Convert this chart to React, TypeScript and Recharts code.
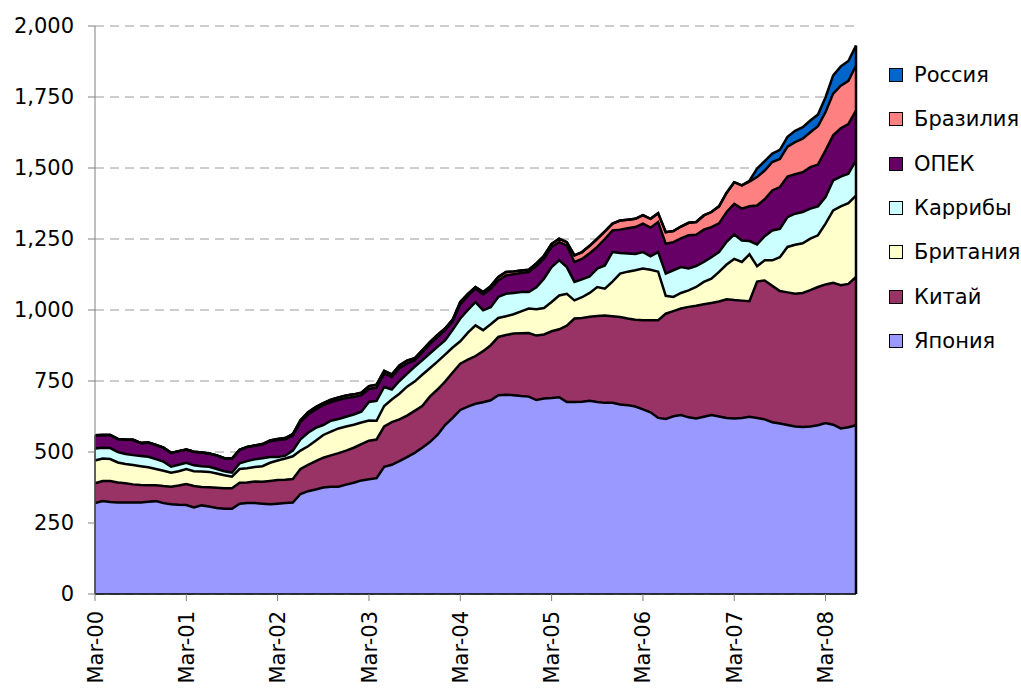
import React from 'react';
import { AreaChart, Area, XAxis, YAxis, CartesianGrid, ReferenceLine } from 'recharts';

const FONT = '"DejaVu Sans", Verdana, sans-serif';

const monthNames = ['Jan', 'Feb', 'Mar', 'Apr', 'May', 'Jun', 'Jul', 'Aug', 'Sep', 'Oct', 'Nov', 'Dec'];
// Monthly categories Mar-00 .. Jul-08
const categories: string[] = Array.from({ length: 101 }, (_, i) => {
  const m = (2 + i) % 12;
  const y = Math.floor((2 + i) / 12);
  return `${monthNames[m]}-${String(y).padStart(2, '0')}`;
});

const yTicks = [0, 250, 500, 750, 1000, 1250, 1500, 1750, 2000];

const japan = [
  320, 327, 324, 322, 322, 322, 322, 325, 327, 320,
  316, 314, 313, 305, 312, 308, 303, 300, 300, 318,
  320, 320, 318, 316, 318, 320, 322, 352, 362, 368,
  375, 378, 378, 385, 392, 400, 404, 408, 448, 455,
  468, 482, 497, 515, 535, 560, 595, 620, 648, 660,
  670, 675, 682, 700, 702, 700, 697, 695, 683, 688,
  690, 693, 676, 676, 677, 680, 676, 673, 673, 667,
  665, 660, 650, 640, 620, 616, 626, 630, 622, 618,
  624, 630, 625, 620, 618, 620, 624, 620, 615, 605,
  600, 595, 590, 588, 590, 594, 602, 596, 583, 587, 594,
];

const china = [
  70, 71, 74, 71, 68, 64, 62, 58, 56, 60,
  62, 68, 74, 75, 65, 68, 71, 72, 72, 74,
  73, 76, 77, 82, 83, 82, 83, 88, 93, 100,
  105, 110, 118, 120, 123, 128, 136, 136, 142, 150,
  147, 146, 148, 147, 160, 160, 153, 160, 163, 165,
  168, 180, 194, 205, 210, 217, 221, 224, 227, 226,
  235, 239, 269, 294, 295, 296, 303, 308, 305, 308,
  305, 306, 314, 324, 344, 371, 370, 375, 389, 397,
  396, 395, 405, 418, 417, 413, 407, 480, 489, 480,
  467, 467, 467, 472, 480, 487, 488, 500, 504, 505, 522,
];

const britain = [
  80, 79, 77, 70, 68, 68, 66, 63, 57, 54,
  49, 50, 53, 52, 54, 54, 50, 46, 41, 48,
  50, 51, 55, 64, 69, 75, 80, 65, 65, 72,
  80, 84, 87, 85, 81, 76, 71, 66, 72, 80,
  90, 102, 103, 110, 100, 98, 95, 88, 79, 95,
  108, 74, 74, 67, 66, 68, 77, 86, 93, 93,
  103, 119, 112, 64, 73, 84, 102, 94, 122, 153,
  165, 174, 182, 178, 171, 63, 50, 55, 58, 66,
  79, 85, 104, 122, 145, 136, 165, 54, 71, 90,
  119, 160, 173, 175, 181, 182, 214, 255, 278, 284, 287,
];

const caribbean = [
  42, 38, 39, 37, 35, 35, 36, 37, 35, 32,
  21, 23, 22, 21, 19, 18, 16, 14, 14, 20,
  25, 27, 28, 20, 12, 10, 20, 40, 48, 45,
  35, 38, 33, 34, 36, 38, 65, 70, 67, 35,
  45, 45, 52, 51, 52, 52, 50, 62, 80, 80,
  82, 70, 60, 74, 79, 75, 68, 58, 77, 103,
  123, 124, 94, 65, 63, 58, 65, 82, 104, 73,
  64, 57, 58, 47, 69, 78, 94, 91, 77, 74,
  70, 76, 70, 80, 86, 76, 47, 77, 85, 105,
  100, 105, 109, 110, 106, 102, 94, 105, 105, 104, 124,
];

const opec = [
  47, 45, 46, 46, 51, 54, 46, 50, 50, 49,
  49, 48, 47, 48, 48, 47, 48, 46, 50, 48,
  50, 48, 48, 56, 60, 58, 53, 60, 64, 65,
  70, 66, 67, 66, 62, 58, 46, 47, 47, 44,
  45, 37, 22, 27, 33, 35, 36, 30, 50, 50,
  47, 56, 65, 58, 65, 66, 67, 71, 75, 71,
  71, 64, 76, 70, 72, 82, 76, 93, 76, 82,
  89, 95, 100, 101, 106, 105, 99, 101, 117, 110,
  114, 106, 101, 105, 108, 112, 122, 137, 130, 141,
  147, 143, 139, 140, 146, 147, 164, 159, 170, 175, 175,
];

const brazil = [
  0, 0, 0, 0, 0, 0, 0, 0, 0, 0,
  0, 0, 0, 0, 0, 0, 0, 0, 0, 0,
  0, 1, 2, 3, 4, 4, 5, 7, 8, 8,
  7, 8, 9, 9, 9, 9, 10, 10, 10, 9,
  10, 10, 8, 8, 7, 7, 6, 6, 8, 7,
  6, 8, 9, 12, 12, 10, 9, 8, 9, 10,
  11, 12, 12, 23, 24, 26, 29, 27, 24, 32,
  30, 29, 30, 31, 31, 41, 39, 42, 44, 45,
  50, 53, 60, 68, 76, 82, 87, 100, 101, 100,
  99, 105, 113, 118, 123, 135, 135, 147, 150, 152, 159,
];

const russia = [
  0, 0, 0, 0, 0, 0, 0, 0, 0, 0,
  0, 0, 0, 0, 0, 0, 0, 0, 0, 0,
  0, 0, 0, 0, 0, 0, 0, 0, 0, 0,
  0, 0, 0, 0, 0, 0, 0, 0, 0, 0,
  0, 0, 0, 0, 0, 0, 0, 0, 0, 0,
  0, 0, 0, 0, 0, 0, 0, 0, 0, 0,
  0, 0, 0, 0, 0, 0, 0, 0, 0, 0,
  0, 0, 0, 0, 0, 0, 0, 0, 0, 0,
  0, 0, 0, 0, 0, 0, 3, 30, 33, 30,
  32, 35, 40, 41, 41, 41, 52, 64, 68, 70, 70,
];

const series = [
  { key: 'japan', name: 'Япония', color: '#9999FF', values: japan },
  { key: 'china', name: 'Китай', color: '#993366', values: china },
  { key: 'britain', name: 'Британия', color: '#FFFFCC', values: britain },
  { key: 'caribbean', name: 'Каррибы', color: '#CCFFFF', values: caribbean },
  { key: 'opec', name: 'ОПЕК', color: '#660066', values: opec },
  { key: 'brazil', name: 'Бразилия', color: '#FF8080', values: brazil },
  { key: 'russia', name: 'Россия', color: '#0066CC', values: russia },
];

const data = categories.map((cat, i) => {
  const row: Record<string, any> = { cat };
  series.forEach((s) => {
    row[s.key] = s.values[i];
  });
  return row;
});

const lastIdx = categories.length - 1;
const firstTotal = series.reduce((a, s) => a + s.values[0], 0);
const lastTotal = series.reduce((a, s) => a + s.values[lastIdx], 0);

const XTick = (props: any) => {
  const { x, y, payload } = props;
  return (
    <g transform={`translate(${x},${y})`}>
      <text
        transform="rotate(-90)"
        x={-8}
        y={0}
        dy="0.36em"
        textAnchor="end"
        fontFamily={FONT}
        fontSize={21}
        fill="#000"
      >
        {payload.value}
      </text>
    </g>
  );
};

const fmt = (v: number) => v.toLocaleString('en-US');

export default function App() {
  const legendItems = [...series].reverse();
  return (
    <div style={{ position: 'absolute', left: 0, top: 0, width: 1021, height: 696, background: '#fff', fontFamily: FONT }}>
      <AreaChart
        width={1021}
        height={696}
        data={data}
        margin={{ top: 26, right: 165, bottom: 0, left: 0 }}
      >
        <CartesianGrid vertical={false} stroke="#9a9a9a" strokeDasharray="9 6" />
        <XAxis
          dataKey="cat"
          interval={11}
          height={102}
          tickSize={7}
          tickMargin={2}
          tick={<XTick />}
          axisLine={{ stroke: '#000', strokeWidth: 1.5 }}
          tickLine={{ stroke: '#808080' }}
          padding={{ left: 0, right: 0 }}
        />
        <YAxis
          domain={[0, 2000]}
          ticks={yTicks}
          width={95}
          tickSize={7}
          tickMargin={14}
          tickFormatter={fmt}
          tick={{ fontSize: 21, fill: '#000', fontFamily: FONT }}
          axisLine={{ stroke: '#808080' }}
          tickLine={{ stroke: '#808080' }}
          allowDataOverflow
        />
        {series.map((s) => (
          <Area
            key={s.key}
            type="linear"
            dataKey={s.key}
            name={s.name}
            stackId="fill"
            stroke="none"
            fill={s.color}
            fillOpacity={1}
            dot={false}
            activeDot={false}
            isAnimationActive={false}
          />
        ))}
        {series.map((s) => (
          <Area
            key={s.key + '-line'}
            type="linear"
            dataKey={s.key}
            name={s.name + ' '}
            stackId="line"
            stroke="#000"
            strokeWidth={2.5}
            fill="none"
            dot={false}
            activeDot={false}
            legendType="none"
            isAnimationActive={false}
          />
        ))}
        <ReferenceLine
          segment={[{ x: categories[lastIdx], y: 0 }, { x: categories[lastIdx], y: lastTotal }]}
          stroke="#000"
          strokeWidth={2.5}
        />
        <ReferenceLine
          segment={[{ x: categories[0], y: 0 }, { x: categories[0], y: firstTotal }]}
          stroke="#000"
          strokeWidth={1.5}
        />
      </AreaChart>
      <div style={{ position: 'absolute', left: 0, top: 0 }}>
        {legendItems.map((s, i) => (
          <div
            key={s.key}
            style={{
              position: 'absolute',
              left: 889,
              top: 75 + i * 44.3 - 13,
              height: 26,
              display: 'flex',
              alignItems: 'center',
              whiteSpace: 'nowrap',
            }}
          >
            <div
              style={{
                width: 12,
                height: 12,
                background: s.color,
                border: '1.5px solid #000',
                marginRight: 11,
              }}
            />
            <span style={{ fontSize: 21, color: '#000', fontFamily: FONT, lineHeight: '26px' }}>{s.name}</span>
          </div>
        ))}
      </div>
    </div>
  );
}
